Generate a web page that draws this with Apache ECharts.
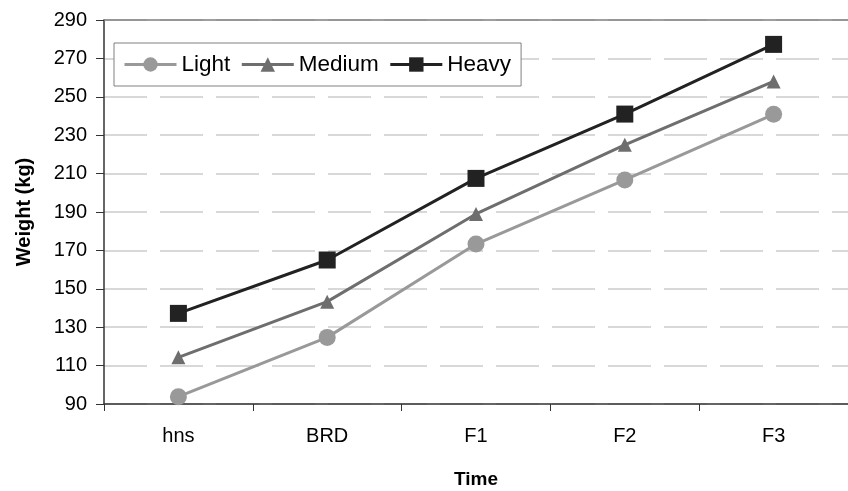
<!DOCTYPE html>
<html>
<head>
<meta charset="utf-8">
<script src="https://cdn.jsdelivr.net/npm/echarts@6/dist/echarts.min.js"></script>
<style>
html,body{margin:0;padding:0;background:#fff;}
#chart{width:848px;height:491px;}
</style>
</head>
<body>
<div id="chart"></div>
<script>
var categories = ['hns', 'BRD', 'F1', 'F2', 'F3'];
var lightValues = [93.8, 124.7, 173.3, 206.7, 240.9];
var mediumValues = [114.3, 143.3, 189, 225, 258];
var heavyValues = [137.2, 165, 207.5, 241, 277.3];
var yMin = 90, yMax = 290, yStep = 20;

var FONT = '"Liberation Sans", Arial, sans-serif';
var chart = echarts.init(document.getElementById('chart'), null, {renderer: 'canvas'});

function series(name, data, color, symbol, size) {
  return {
    name: name,
    type: 'line',
    data: data,
    symbol: symbol,
    symbolSize: size,
    lineStyle: {color: color, width: 3},
    itemStyle: {color: color},
    emphasis: {disabled: true},
    animation: false
  };
}

chart.setOption({
  animation: false,
  backgroundColor: '#ffffff',
  grid: {left: 104, right: 0, top: 20, bottom: 87, containLabel: false, outerBoundsMode: 'none'},
  legend: {
    left: 114, top: 43,
    padding: [10, 10, 10, 9],
    itemGap: 10,
    itemWidth: 52, itemHeight: 18,
    backgroundColor: '#ffffff',
    borderColor: '#808080', borderWidth: 1,
    lineStyle: {width: 3},
    textStyle: {fontFamily: FONT, fontSize: 22.5, color: '#000'},
    data: ['Light', 'Medium', 'Heavy']
  },
  xAxis: [{
    type: 'category',
    data: categories,
    boundaryGap: true,
    axisLine: {lineStyle: {color: '#333', width: 1.5}},
    axisTick: {show: true, length: 7, lineStyle: {color: '#333'}},
    axisLabel: {fontFamily: FONT, fontSize: 20, color: '#000', margin: 22},
    name: 'Time',
    nameLocation: 'middle',
    nameGap: 66,
    nameTextStyle: {fontFamily: FONT, fontSize: 19, fontWeight: 'bold', color: '#000'},
    splitLine: {show: false}
  }, {
    type: 'category',
    data: categories,
    position: 'top',
    axisLine: {lineStyle: {color: '#808080', width: 1.5}},
    axisTick: {show: false},
    axisLabel: {show: false},
    splitLine: {show: false}
  }],
  yAxis: {
    type: 'value',
    min: yMin, max: yMax, interval: yStep,
    axisLine: {show: true, lineStyle: {color: '#333', width: 1.5}},
    axisTick: {show: true, length: 8, lineStyle: {color: '#333'}},
    axisLabel: {fontFamily: FONT, fontSize: 20, color: '#000', margin: 17},
    name: 'Weight (kg)',
    nameLocation: 'middle',
    nameGap: 70,
    nameTextStyle: {fontFamily: FONT, fontSize: 20, fontWeight: 'bold', color: '#000'},
    splitLine: {show: true, lineStyle: {color: '#cccccc', width: 1.5, type: [43, 13]}}
  },
  series: [
    series('Light', lightValues, '#999999', 'circle', 17),
    series('Medium', mediumValues, '#6e6e6e', 'triangle', 14),
    series('Heavy', heavyValues, '#222222', 'rect', 17)
  ]
});
</script>
</body>
</html>
